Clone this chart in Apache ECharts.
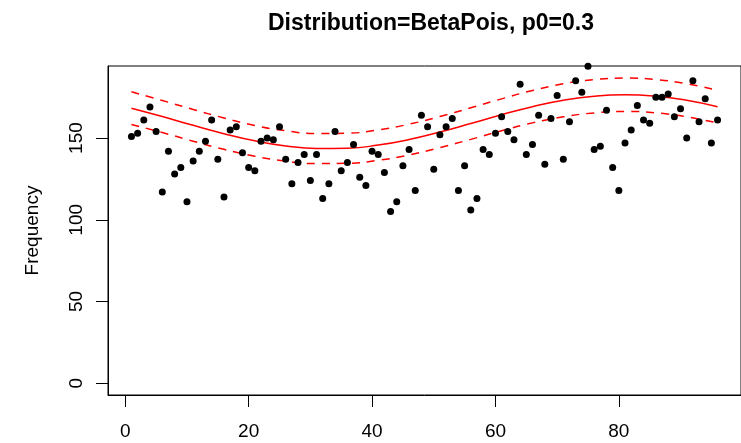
<!DOCTYPE html>
<html>
<head>
<meta charset="utf-8">
<script src="https://cdn.jsdelivr.net/npm/echarts@6/dist/echarts.min.js"></script>
<style>
html,body{margin:0;padding:0;background:#fff;}
#chart{width:741px;height:443px;}
</style>
</head>
<body>
<div id="chart"></div>
<script>
// Observed frequencies for time index 1..96
var counts = [151,153,161,169,154,117,142,128,132,111,
              136,142,148,161,137,114,155,157,141,132,
              130,148,150,149,157,137,122,135,140,124,
              140,113,122,154,130,135,146,126,121,142,
              140,129,105,111,133,143,118,164,157,131,
              152,157,162,118,133,106,113,143,140,153,
              163,154,149,183,140,146,164,134,162,176,
              137,160,185,178,194,143,145,167,132,118,
              147,155,170,161,159,175,175,177,163,168,
              150,185,160,174,147,161];
// Fitted curve and bands read at these time indices
var curveX = [1,6,11,16,21,26,31,36,41,46,51,56,61,66,71,76,81,86,91,96];
var fitVals = [168.3,163.2,157.8,152.7,148.3,145.2,143.6,143.8,145.7,149.1,153.7,158.9,164.3,169.2,173.1,175.6,176.5,175.6,173.1,169.2];
var upperVals = [178.3,173.0,167.5,162.3,157.7,154.5,152.8,153.0,155.0,158.5,163.2,168.5,174.0,179.1,183.2,185.8,186.7,185.8,183.2,179.2];
var lowerVals = [158.3,153.4,148.1,143.1,138.9,135.9,134.4,134.6,136.4,139.7,144.2,149.2,154.5,159.3,163.0,165.4,166.3,165.4,163.0,159.2];
var xTicks = [0,20,40,60,80];
var yTicks = [0,50,100,150];
var titleText = 'Distribution=BetaPois, p0=0.3';
var yName = 'Frequency';

var pts = counts.map(function(v,i){return [i+1,v];});
function pairs(xs, ys){return xs.map(function(x,i){return [x, ys[i]];});}

var FONT = 'Liberation Sans, Arial, Helvetica, sans-serif';
var chart = echarts.init(document.getElementById('chart'), null, {renderer:'canvas'});
chart.setOption({
  animation:false,
  backgroundColor:'#ffffff',
  title:{text:titleText, left:263, top:7,
    textStyle:{fontFamily:FONT, fontSize:23, fontWeight:'bold', color:'#000'}},
  grid:{left:108, top:66, width:640, height:329, show:true, borderColor:'#000', borderWidth:1, containLabel:false},
  xAxis:{type:'value', min:-2.8, max:99.8,
    axisLine:{show:true, onZero:false, lineStyle:{color:'#000', width:1}},
    axisTick:{show:true, length:12, customValues:xTicks, lineStyle:{color:'#000'}},
    axisLabel:{customValues:xTicks, fontFamily:FONT, fontSize:19, color:'#000', margin:27},
    splitLine:{show:false}},
  yAxis:{type:'value', min:-7.2, max:194.1,
    name:yName, nameLocation:'middle', nameGap:66, nameRotate:90,
    nameTextStyle:{fontFamily:FONT, fontSize:19, color:'#000'},
    axisLine:{show:true, onZero:false, lineStyle:{color:'#000', width:1}},
    axisTick:{show:true, length:12, customValues:yTicks, lineStyle:{color:'#000'}},
    axisLabel:{customValues:yTicks, rotate:90, fontFamily:FONT, fontSize:19, color:'#000', margin:22},
    splitLine:{show:false}},
  series:[
    {type:'scatter', data:pts, symbol:'circle', symbolSize:7, itemStyle:{color:'#000', opacity:1}, z:3},
    {type:'line', data:pairs(curveX, fitVals), smooth:true, showSymbol:false, lineStyle:{color:'#ff0000', width:1.5}, z:2},
    {type:'line', data:pairs(curveX, upperVals), smooth:true, showSymbol:false, lineStyle:{color:'#ff0000', width:1.5, type:[8,7]}, z:2},
    {type:'line', data:pairs(curveX, lowerVals), smooth:true, showSymbol:false, lineStyle:{color:'#ff0000', width:1.5, type:[8,7]}, z:2}
  ]
});
</script>
</body>
</html>
